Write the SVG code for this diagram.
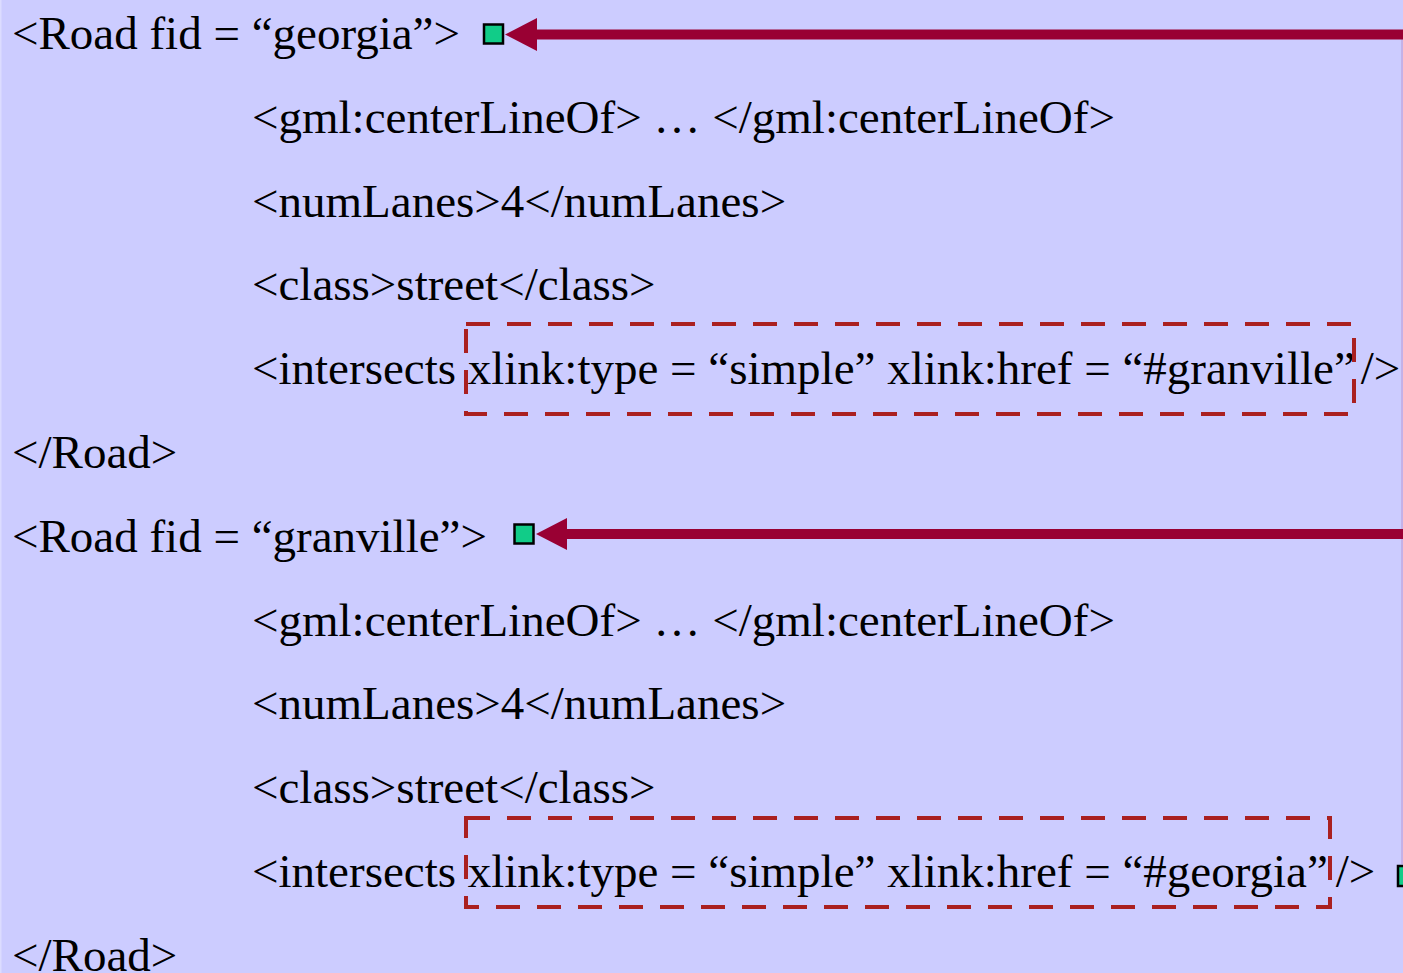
<svg xmlns="http://www.w3.org/2000/svg" width="1403" height="973" viewBox="0 0 1403 973">
<style>
text{font-family:"Liberation Serif","Times New Roman",serif;font-size:47px;fill:#000}
.box{fill:none;stroke:#AA2020;stroke-width:4;stroke-dasharray:24 17}
.sq{fill:#11CC88;stroke:#000;stroke-width:2.5}
.ar{stroke:#990033;stroke-width:10;fill:none}
.ah{fill:#990033}
</style>
<rect width="1403" height="973" fill="#CCCCFF"/>
<line x1="0.75" y1="0" x2="0.75" y2="973" stroke="#DCDCFF" stroke-width="1.5"/>
<g id="road-georgia">
<text x="12" y="49">&lt;Road fid = “georgia”&gt;</text>
<text x="252" y="132.8">&lt;gml:centerLineOf&gt; … &lt;/gml:centerLineOf&gt;</text>
<text x="252" y="216.6">&lt;numLanes&gt;4&lt;/numLanes&gt;</text>
<text x="252" y="300.4">&lt;class&gt;street&lt;/class&gt;</text>
<text x="252" y="384.2">&lt;intersects xlink:type = “simple” xlink:href = “#granville”<tspan dx="6">/&gt;</tspan></text>
<text x="12" y="468">&lt;/Road&gt;</text>
</g>
<g id="road-granville">
<text x="12" y="551.8">&lt;Road fid = “granville”&gt;</text>
<text x="252" y="635.6">&lt;gml:centerLineOf&gt; … &lt;/gml:centerLineOf&gt;</text>
<text x="252" y="719.4">&lt;numLanes&gt;4&lt;/numLanes&gt;</text>
<text x="252" y="803.2">&lt;class&gt;street&lt;/class&gt;</text>
<text x="252" y="887">&lt;intersects xlink:type = “simple” xlink:href = “#georgia”<tspan dx="8">/&gt;</tspan></text>
<text x="12" y="970.8">&lt;/Road&gt;</text>
</g>
<g id="href-box-1"><rect class="box" x="466" y="324" width="888" height="90"/></g>
<g id="href-box-2"><rect class="box" x="466" y="818" width="864" height="89"/></g>
<g id="anchor-georgia"><rect class="sq" x="484" y="24.5" width="19" height="19"/></g>
<g id="anchor-granville"><rect class="sq" x="514.5" y="524.5" width="19" height="19"/></g>
<g id="anchor-3"><rect class="sq" x="1398" y="866" width="19" height="20"/></g>
<g id="connectors">
<line x1="1402" y1="38" x2="1402" y2="864" stroke="#C0A0D8" stroke-width="1.2"/>
<line class="ar" x1="1403" y1="34.5" x2="530" y2="34.5"/>
<polygon class="ah" points="505,34.5 537,18 537,51"/>
<line class="ar" x1="1403" y1="534" x2="560" y2="534"/>
<polygon class="ah" points="536,534 567,518 567,550"/>
</g>
</svg>
